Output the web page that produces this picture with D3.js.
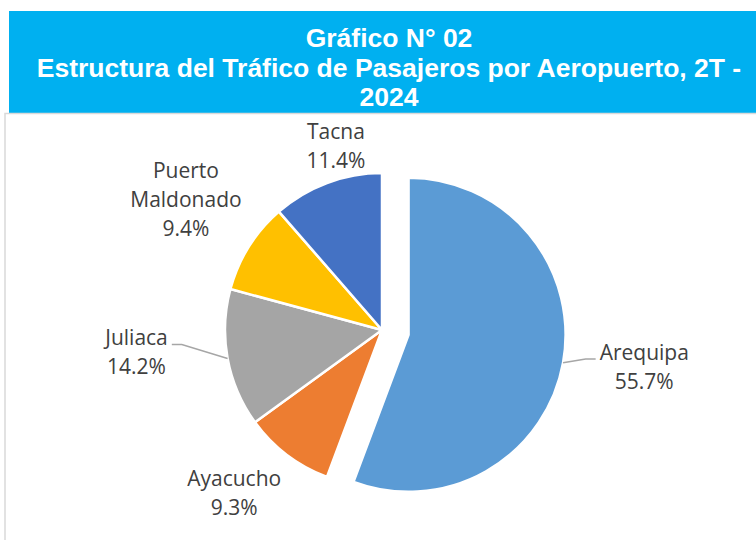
<!DOCTYPE html>
<html lang="es">
<head>
<meta charset="UTF-8">
<title>Gráfico N° 02</title>
<style>
    body {
        margin: 0;
        padding: 0;
        background-color: #fff;
    }
    svg {
        display: block;
    }
</style>
</head>
<body>
<svg id="chart" width="756" height="540"></svg>

<script src="https://d3js.org/d3.v7.min.js"></script>
<script>
    // datos del gráfico (orden horario desde las 12)
    var aeropuertos = ["Arequipa", "Ayacucho", "Juliaca", "Puerto Maldonado", "Tacna"];
    var participacion = [55.7, 9.3, 14.2, 9.4, 11.4];
    var colores = ["#5B9BD5", "#ED7D31", "#A5A5A5", "#FFC000", "#4472C4"];
    var etiquetas = [["Arequipa", "55.7%"], ["Ayacucho", "9.3%"], ["Juliaca", "14.2%"],
                     ["Puerto", "Maldonado", "9.4%"], ["Tacna", "11.4%"]];
    var titulo = ["Gráfico N° 02", "Estructura del Tráfico de Pasajeros por Aeropuerto, 2T -", "2024"];

    // ubicación de las etiquetas: factor de radio y ajuste de ángulo (grados)
    var radioEtiqueta = [1.515, 1.40, 1.57, 1.50, 1.21];
    var ajusteAngulo = [-2.5, 5, 5.2, 1.6, 6.5];
    var conGuia = [true, false, true, false, false];

    const svg = d3.select("#chart");

    // banda del título
    svg.append("rect")
        .attr("x", 9).attr("y", 11)
        .attr("width", 747).attr("height", 102)
        .attr("fill", "#00B0F0");

    svg.selectAll(".titulo")
        .data(titulo)
        .enter().append("text")
        .attr("class", "titulo")
        .attr("x", 389)
        .attr("y", (d, i) => 47 + i * 29.5)
        .attr("text-anchor", "middle")
        .attr("font-family", "Liberation Sans, Arial, sans-serif")
        .attr("font-weight", "bold")
        .attr("font-size", 26.5)
        .attr("fill", "#fff")
        .text(d => d);

    // borde del área del gráfico
    svg.append("path")
        .attr("d", "M5,540 V113.5 H756")
        .attr("fill", "none")
        .attr("stroke", "#D9D9D9")
        .attr("stroke-width", 1.5);

    // pastel
    const cx = 382, cy = 330, r = 157, explota = 27;
    const pie = d3.pie().sort(null).value(d => d);
    const arcos = pie(participacion);
    const arc = d3.arc().innerRadius(0).outerRadius(r);

    function medio(a) { return (a.startAngle + a.endAngle) / 2; }
    function centro(a, i) {
        var m = medio(a);
        var e = i === 0 ? explota : 0;
        return [cx + Math.sin(m) * e, cy - Math.cos(m) * e];
    }

    svg.selectAll(".tajada")
        .data(arcos)
        .enter().append("path")
        .attr("class", "tajada")
        .attr("transform", (d, i) => "translate(" + centro(d, i) + ")")
        .attr("d", arc)
        .attr("fill", (d, i) => colores[i])
        .attr("stroke", "#fff")
        .attr("stroke-width", 2.5)
        .attr("stroke-linejoin", "round");

    // etiquetas
    const lineH = 29, fs = 21;
    arcos.forEach(function(a, i) {
        var c = centro(a, i);
        var m = medio(a) + ajusteAngulo[i] * Math.PI / 180;
        var rr = r * radioEtiqueta[i];
        var lx = c[0] + Math.sin(m) * rr;
        var ly = c[1] - Math.cos(m) * rr;
        var lineas = etiquetas[i];
        var top = ly - lineas.length * lineH / 2;

        var g = svg.append("g");
        var maxW = 0;
        lineas.forEach(function(t, j) {
            var tx = g.append("text")
                .attr("x", lx)
                .attr("y", top + lineH * j + lineH / 2 + fs * 0.35)
                .attr("text-anchor", "middle")
                .attr("font-family", "Open Sans, sans-serif")
                .attr("font-size", fs)
                .attr("fill", "#404040")
                .text(t);
            maxW = Math.max(maxW, tx.node().getComputedTextLength());
        });

        if (conGuia[i]) {
            var mm = medio(a);
            var px = c[0] + Math.sin(mm) * r;
            var py = c[1] - Math.cos(mm) * r;
            var lado = Math.sin(mm) > 0 ? -1 : 1; // hacia el pastel
            var bordeX = lx + lado * (maxW / 2 + 4);
            var hy = top + lineH / 2 + 6.5;
            svg.append("polyline")
                .attr("points", [[bordeX, hy], [bordeX + lado * 10, hy], [px, py]].join(" "))
                .attr("fill", "none")
                .attr("stroke", "#A6A6A6")
                .attr("stroke-width", 1.5);
        }
    });
</script>
</body>
</html>
